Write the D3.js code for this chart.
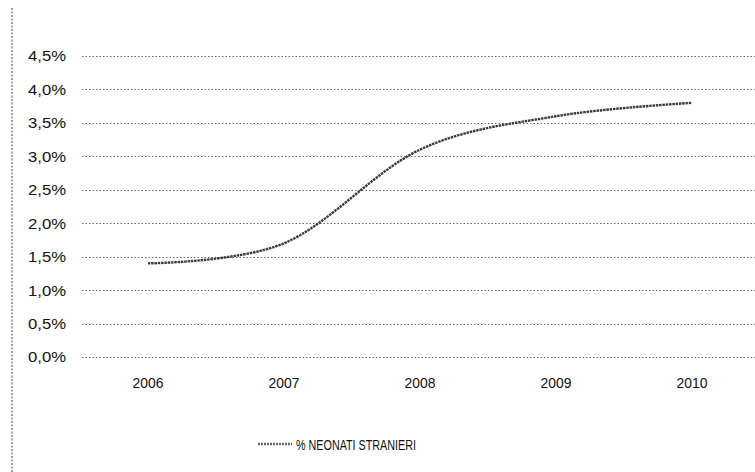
<!DOCTYPE html>
<html>
<head>
<meta charset="utf-8">
<script src="https://cdn.jsdelivr.net/npm/d3@7"></script>
<style>
  html, body { margin: 0; padding: 0; background: #fff; }
  svg { display: block; }
  text { font-family: "Liberation Sans", "DejaVu Sans", sans-serif; fill: #111; }
</style>
</head>
<body>
<svg id="chart" width="755" height="472"></svg>
<script>
// Share of foreign-born newborns per year
const years = ["2006", "2007", "2008", "2009", "2010"];
const neonatiStranieri = [0.014, 0.017, 0.031, 0.036, 0.038];
const yTicks = [0, 0.005, 0.01, 0.015, 0.02, 0.025, 0.03, 0.035, 0.04, 0.045];
const seriesName = "% NEONATI STRANIERI";

const W = 755, H = 472;
const svg = d3.select("#chart");

const x = d3.scaleBand().domain(years).range([80, 760]);
const y = d3.scaleLinear().domain([0, 0.045]).range([357, 56]);
const fmt = v => d3.format(".1f")(v * 100).replace(".", ",") + "%";

// Chart-area border on the left
svg.append("line")
  .attr("x1", 12).attr("x2", 12).attr("y1", 8).attr("y2", H)
  .attr("stroke", "#666").attr("stroke-width", 1.2)
  .attr("stroke-dasharray", "2,1.5");

// Dotted horizontal gridlines
svg.append("g").selectAll("line").data(yTicks).join("line")
  .attr("x1", 82).attr("x2", W)
  .attr("y1", d => Math.round(y(d)) + 0.5).attr("y2", d => Math.round(y(d)) + 0.5)
  .attr("stroke", "#666").attr("stroke-width", 1)
  .attr("stroke-dasharray", "1.5,2");

// Y axis labels
const yAxis = d3.axisLeft(y).tickValues(yTicks).tickFormat(fmt).tickSize(0).tickPadding(0);
const gy = svg.append("g").attr("transform", "translate(66,0)").call(yAxis);
gy.select(".domain").remove();
gy.selectAll("text").attr("font-size", 15.5).attr("font-family", "Liberation Sans, sans-serif")
  .attr("fill", "#111").attr("textLength", 38).attr("lengthAdjust", "spacingAndGlyphs");

// X axis labels
const xAxis = d3.axisBottom(x).tickSize(0).tickPadding(0);
const gx = svg.append("g").attr("transform", "translate(0,377)").call(xAxis);
gx.select(".domain").remove();
gx.selectAll("text").attr("font-size", 15).attr("font-family", "Liberation Sans, sans-serif")
  .attr("fill", "#111").attr("textLength", 31).attr("lengthAdjust", "spacingAndGlyphs");

// Series line (smoothed)
const line = d3.line()
  .x((d, i) => x(years[i]) + x.bandwidth() / 2)
  .y(d => y(d))
  .curve(d3.curveCardinal.tension(0));
svg.append("path")
  .datum(neonatiStranieri)
  .attr("d", line)
  .attr("fill", "none")
  .attr("stroke", "#3a3a3a")
  .attr("stroke-width", 2.4)
  .attr("stroke-dasharray", "2.5,0.8");

// Legend
const lg = svg.append("g").attr("transform", "translate(258,444)");
lg.append("line").attr("x1", 0).attr("x2", 34).attr("y1", 0).attr("y2", 0)
  .attr("stroke", "#666").attr("stroke-width", 2.4).attr("stroke-dasharray", "2,1");
lg.append("text").attr("x", 38).attr("y", 5.5)
  .attr("font-size", 15).attr("textLength", 120).attr("lengthAdjust", "spacingAndGlyphs")
  .text(seriesName);
</script>
</body>
</html>
